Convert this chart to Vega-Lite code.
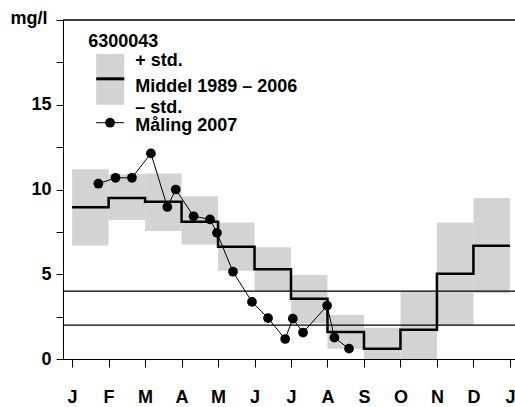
{
  "$schema": "https://vega.github.io/schema/vega-lite/v6.json",
  "width": 452,
  "height": 339,
  "autosize": "none",
  "padding": {"left": 63, "top": 20, "right": 0, "bottom": 48},
  "background": "white",
  "config": {
    "view": {"stroke": null},
    "font": "Liberation Sans",
    "axis": {
      "domainColor": "black",
      "tickColor": "black",
      "labelColor": "black",
      "titleColor": "black",
      "labelFont": "Liberation Sans",
      "labelFontWeight": "bold",
      "labelFontSize": 18,
      "grid": false
    },
    "text": {"font": "Liberation Sans", "fontWeight": "bold", "fontSize": 18, "color": "black"}
  },
  "datasets": {
    "bands": [
      {"start": 0, "end": 1, "lo": 6.7, "hi": 11.2},
      {"start": 1, "end": 2, "lo": 8.2, "hi": 10.9},
      {"start": 2, "end": 3, "lo": 7.55, "hi": 10.95},
      {"start": 3, "end": 4, "lo": 6.75, "hi": 9.6},
      {"start": 4, "end": 5, "lo": 5.2, "hi": 8.05},
      {"start": 5, "end": 6, "lo": 3.95, "hi": 6.6},
      {"start": 6, "end": 7, "lo": 2.1, "hi": 4.95},
      {"start": 7, "end": 8, "lo": 0.6, "hi": 2.6},
      {"start": 8, "end": 9, "lo": 0, "hi": 1.85},
      {"start": 9, "end": 10, "lo": 0, "hi": 4.0},
      {"start": 10, "end": 11, "lo": 2.0, "hi": 8.05},
      {"start": 11, "end": 12, "lo": 3.9, "hi": 9.5}
    ],
    "mean": [
      {"m": 0, "v": 8.95},
      {"m": 1, "v": 9.5},
      {"m": 2, "v": 9.27},
      {"m": 3, "v": 8.1},
      {"m": 4, "v": 6.62},
      {"m": 5, "v": 5.3},
      {"m": 6, "v": 3.55},
      {"m": 7, "v": 1.6},
      {"m": 8, "v": 0.6},
      {"m": 9, "v": 1.72},
      {"m": 10, "v": 5.03},
      {"m": 11, "v": 6.68},
      {"m": 12, "v": 6.68}
    ],
    "obs": [
      {"t": 0.72, "v": 10.34},
      {"t": 1.19, "v": 10.69},
      {"t": 1.64, "v": 10.69},
      {"t": 2.16, "v": 12.13},
      {"t": 2.61, "v": 8.97},
      {"t": 2.84, "v": 10.0},
      {"t": 3.33, "v": 8.42},
      {"t": 3.78, "v": 8.24},
      {"t": 3.97, "v": 7.44},
      {"t": 4.41, "v": 5.15},
      {"t": 4.93, "v": 3.37},
      {"t": 5.37, "v": 2.41},
      {"t": 5.84, "v": 1.18},
      {"t": 6.05, "v": 2.38},
      {"t": 6.33, "v": 1.56},
      {"t": 6.99, "v": 3.15},
      {"t": 7.19, "v": 1.26},
      {"t": 7.59, "v": 0.61}
    ],
    "refs": [{"v": 4}, {"v": 2}, {"v": 20}]
  },
  "encoding": {
    "x": {
      "type": "quantitative",
      "scale": {"domain": [-0.25, 12.14], "nice": false, "zero": false},
      "axis": {
        "title": null,
        "values": [0, 1, 2, 3, 4, 5, 6, 7, 8, 9, 10, 11, 12],
        "labelExpr": "['J','F','M','A','M','J','J','A','S','O','N','D','J'][datum.value]",
        "tickSize": 8,
        "labelPadding": 21,
        "labelFlush": false,
        "labelOverlap": false
      }
    },
    "y": {
      "type": "quantitative",
      "scale": {"domain": [0, 20], "nice": false},
      "axis": {
        "title": "mg/l",
        "titleAngle": 0,
        "titleAlign": "right",
        "titleBaseline": "alphabetic",
        "titleX": -16,
        "titleY": 3,
        "titleFont": "Liberation Sans",
        "titleFontWeight": "bold",
        "titleFontSize": 18,
        "values": [0, 2.5, 5, 7.5, 10, 12.5, 15, 17.5, 20],
        "labelExpr": "datum.value % 5 == 0 && datum.value < 20 ? datum.label : ''",
        "tickSize": 7,
        "labelPadding": 5
      }
    }
  },
  "layer": [
    {
      "data": {"name": "bands"},
      "mark": {"type": "rect", "color": "#d3d3d3"},
      "encoding": {
        "x": {"field": "start", "type": "quantitative"},
        "x2": {"field": "end"},
        "y": {"field": "lo", "type": "quantitative"},
        "y2": {"field": "hi"}
      }
    },
    {
      "data": {"name": "refs"},
      "mark": {"type": "rule", "color": "black", "strokeWidth": 1.3},
      "encoding": {
        "y": {"field": "v", "type": "quantitative"}
      }
    },
    {
      "data": {"name": "mean"},
      "mark": {"type": "line", "interpolate": "step-after", "color": "black", "strokeWidth": 2.5},
      "encoding": {
        "x": {"field": "m", "type": "quantitative"},
        "y": {"field": "v", "type": "quantitative"}
      }
    },
    {
      "data": {"name": "obs"},
      "mark": {"type": "line", "color": "black", "strokeWidth": 1},
      "encoding": {
        "x": {"field": "t", "type": "quantitative"},
        "y": {"field": "v", "type": "quantitative"}
      }
    },
    {
      "data": {"name": "obs"},
      "mark": {"type": "circle", "color": "black", "opacity": 1, "size": 95},
      "encoding": {
        "x": {"field": "t", "type": "quantitative"},
        "y": {"field": "v", "type": "quantitative"}
      }
    },
    {
      "data": {"values": [{}]},
      "layer": [
        {
          "mark": {"type": "rect", "color": "#d3d3d3"},
          "encoding": {
            "x": {"datum": 0.66},
            "x2": {"datum": 1.43},
            "y": {"datum": 15.0},
            "y2": {"datum": 18.0}
          }
        },
        {
          "mark": {"type": "rule", "color": "black", "strokeWidth": 3},
          "encoding": {
            "x": {"datum": 0.66},
            "x2": {"datum": 1.43},
            "y": {"datum": 16.53}
          }
        },
        {
          "mark": {"type": "rule", "color": "black", "strokeWidth": 1},
          "encoding": {
            "x": {"datum": 0.66},
            "x2": {"datum": 1.43},
            "y": {"datum": 13.94}
          }
        },
        {
          "mark": {"type": "circle", "color": "black", "opacity": 1, "size": 95},
          "encoding": {
            "x": {"datum": 1.04},
            "y": {"datum": 13.94}
          }
        },
        {
          "mark": {"type": "text", "align": "left", "baseline": "alphabetic", "text": "6300043"},
          "encoding": {"x": {"datum": 0.44}, "y": {"datum": 18.43}}
        },
        {
          "mark": {"type": "text", "align": "left", "baseline": "alphabetic", "text": "+  std."},
          "encoding": {"x": {"datum": 1.73}, "y": {"datum": 17.29}}
        },
        {
          "mark": {"type": "text", "align": "left", "baseline": "alphabetic", "text": "Middel 1989 – 2006"},
          "encoding": {"x": {"datum": 1.73}, "y": {"datum": 15.78}}
        },
        {
          "mark": {"type": "text", "align": "left", "baseline": "alphabetic", "text": "–  std."},
          "encoding": {"x": {"datum": 1.73}, "y": {"datum": 14.53}}
        },
        {
          "mark": {"type": "text", "align": "left", "baseline": "alphabetic", "text": "Måling 2007"},
          "encoding": {"x": {"datum": 1.73}, "y": {"datum": 13.43}}
        }
      ]
    }
  ]
}
